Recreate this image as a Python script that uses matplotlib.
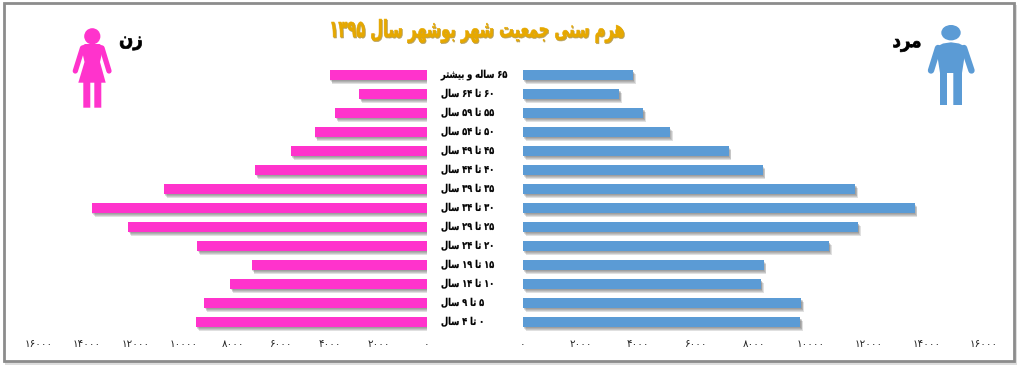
"""Population pyramid of Bushehr city, 1395."""

import matplotlib

matplotlib.use("Agg")

import matplotlib.patheffects as pe
import matplotlib.pyplot as plt
from matplotlib.colors import to_rgb
from matplotlib.patches import Circle, Ellipse, Polygon, Rectangle
from matplotlib.transforms import Affine2D

age_groups = [
    "۰ تا ۴ سال", "۵ تا ۹ سال", "۱۰ تا ۱۴ سال", "۱۵ تا ۱۹ سال", "۲۰ تا ۲۴ سال",
    "۲۵ تا ۲۹ سال", "۳۰ تا ۳۴ سال", "۳۵ تا ۳۹ سال", "۴۰ تا ۴۴ سال", "۴۵ تا ۴۹ سال",
    "۵۰ تا ۵۴ سال", "۵۵ تا ۵۹ سال", "۶۰ تا ۶۴ سال", "۶۵ ساله و بیشتر",
]
male = [9626, 9660, 8260, 8354, 10617, 11622, 13588, 11532, 8319, 7140, 5095, 4170, 3338, 3813]
female = [9506, 9165, 8095, 7218, 9453, 12292, 13800, 10823, 7066, 5597, 4626, 3774, 2786, 4008]
ticks = [0, 2000, 4000, 6000, 8000, 10000, 12000, 14000, 16000]
title = "هرم سنی جمعیت شهر بوشهر سال ۱۳۹۵"
female_label = "زن"
male_label = "مرد"

W, H = 1024, 371
PINK = "#FF33CC"
BLUE = "#5B9BD5"
GOLD = "#E6A800"

# isolated, final, initial, medial (only two forms where the letter does not join forward)
FORMS = {
    "ه": "\uFEE9\uFEEA\uFEEB\uFEEC", "م": "\uFEE1\uFEE2\uFEE3\uFEE4",
    "س": "\uFEB1\uFEB2\uFEB3\uFEB4", "ن": "\uFEE5\uFEE6\uFEE7\uFEE8",
    "ی": "\uFBFC\uFBFD\uFBFE\uFBFF", "ج": "\uFE9D\uFE9E\uFE9F\uFEA0",
    "ع": "\uFEC9\uFECA\uFECB\uFECC", "ت": "\uFE95\uFE96\uFE97\uFE98",
    "ش": "\uFEB5\uFEB6\uFEB7\uFEB8", "ب": "\uFE8F\uFE90\uFE91\uFE92",
    "ل": "\uFEDD\uFEDE\uFEDF\uFEE0", "ر": "\uFEAD\uFEAE", "و": "\uFEED\uFEEE",
    "ا": "\uFE8D\uFE8E", "ز": "\uFEAF\uFEB0", "د": "\uFEA9\uFEAA",
}
DIGITS = "۰۱۲۳۴۵۶۷۸۹"


def shape_word(word: str) -> str:
    """Contextual forms for one word, returned in visual (left to right) order."""
    if word[0] in DIGITS:
        return word
    out = []
    for i, ch in enumerate(word):
        joins_prev = i > 0 and len(FORMS[word[i - 1]]) == 4
        joins_next = i < len(word) - 1 and len(FORMS[ch]) == 4
        idx = (1 if joins_prev else 0) + (2 if joins_next else 0)
        out.append(FORMS[ch][idx])
    return "".join(reversed(out))


def fa(text: str) -> str:
    return " ".join(shape_word(w) for w in reversed(text.split(" ")))


def fa_number(n: int) -> str:
    return "".join(DIGITS[int(c)] for c in str(n))


class Squeeze(pe.AbstractPathEffect):
    """Narrow text horizontally about a pixel column, since the original font is tighter."""

    def __init__(self, x_px, scale, stroke=0.0, color="black", shift=(0, 0)):
        super().__init__()
        self.x_px, self.scale, self.stroke, self.color, self.shift = x_px, scale, stroke, to_rgb(color), shift

    def draw_path(self, renderer, gc, tpath, affine, rgbFace=None):
        squeeze = (Affine2D().translate(-self.x_px, 0).scale(self.scale, 1)
                   .translate(self.x_px + self.shift[0], self.shift[1]))
        gc0 = renderer.new_gc()
        gc0.copy_properties(gc)
        gc0.set_linewidth(self.stroke)
        gc0.set_foreground(self.color)
        renderer.draw_path(gc0, tpath, affine + squeeze, self.color)
        gc0.restore()


def px_axes(fig, x0, x1, y_top, y_bottom, **kw):
    return fig.add_axes([x0 / W, 1 - y_bottom / H, (x1 - x0) / W, (y_bottom - y_top) / H], **kw)


def female_icon(ax):
    ax.add_patch(Circle((92.3, 36.3), 7.4, color=PINK))
    ax.add_patch(Polygon(
        [(81, 46.5), (85, 44), (99.5, 44), (103.5, 46.5), (100, 62), (105.7, 82.7), (101.3, 82.7),
         (101.3, 107.7), (94.3, 107.7), (94.3, 82.7), (90.3, 82.7), (90.3, 107.7), (83.3, 107.7),
         (83.3, 82.7), (78.3, 82.7), (84.5, 62)], color=PINK, lw=0))
    for xs in [(82.5, 75.3), (102, 109)]:
        ax.plot(xs, (48, 71), color=PINK, lw=3.8, solid_capstyle="round")


def male_icon(ax):
    ax.add_patch(Ellipse((951, 32.7), 18, 14, color=BLUE))
    ax.add_patch(Polygon(
        [(936, 47), (943, 43.5), (951, 42.3), (959, 43.5), (966, 47), (962, 73), (962, 105),
         (953.3, 105), (953.3, 73), (947, 73), (947, 105), (940, 105), (940, 73)], color=BLUE, lw=0))
    for xs in [(938, 931), (964, 971.5)]:
        ax.plot(xs, (48, 70.5), color=BLUE, lw=4.6, solid_capstyle="round")


plt.rcParams["font.family"] = ["DejaVu Sans"]
fig = plt.figure(figsize=(W / 100, H / 100), dpi=100)

# frame, icons and captions live in an overlay measured in pixels
bg = fig.add_axes([0, 0, 1, 1])
bg.set_xlim(0, W)
bg.set_ylim(H, 0)
bg.axis("off")
bg.add_patch(Rectangle((5, 5), 1012, 360, color="#dddddd", lw=0))
bg.add_patch(Rectangle((3.5, 3), 1010, 358, facecolor="white", edgecolor="#8c8c8c", lw=2))
female_icon(bg)
male_icon(bg)
bg.text(131, 41, fa(female_label), fontsize=14, fontweight="bold", ha="center", va="center",
        path_effects=[Squeeze(131, 0.85, 0.5)])
bg.text(907, 42, fa(male_label), fontsize=14, fontweight="bold", ha="center", va="center",
        path_effects=[Squeeze(907, 0.85, 0.5)])
bg.text(477, 31, fa(title), fontsize=17, fontweight="bold", color=GOLD, ha="center", va="center",
        path_effects=[Squeeze(477, 0.62, 0.4, "#b9a05a", shift=(0.8, -1)),
                      Squeeze(477, 0.62, 0.4, GOLD)])

Y_TOP, Y_BOTTOM, ROW0, ROW = 60, 335, 322, 19
ylim = ((ROW0 - Y_BOTTOM) / ROW, (ROW0 - Y_TOP) / ROW)
rows = list(range(len(age_groups)))
# a few faint offsets stand in for the blurred shadow of the original
shadow = [pe.SimplePatchShadow(offset=off, shadow_rgbFace="#444444", alpha=0.16)
          for off in [(2, -3), (1.5, -2.2), (1, -1.5), (0.5, -1)]] + [pe.Normal()]

ax_f = px_axes(fig, 38.3, 427, Y_TOP, Y_BOTTOM, facecolor="none")
ax_m = px_axes(fig, 523, 984, Y_TOP, Y_BOTTOM, facecolor="none")
for ax, values, color in [(ax_f, female, PINK), (ax_m, male, BLUE)]:
    bars = ax.barh(rows, values, height=0.5, color=color)
    for bar in bars:
        bar.set_path_effects(shadow)
    ax.set_ylim(*ylim)
    ax.set_yticks([])
    ax.set_xticks(ticks)
    ax.set_xticklabels([fa_number(t) for t in ticks], fontsize=7.5)
    ax.tick_params(axis="x", length=0, pad=3, colors="#222222")
    for spine in ax.spines.values():
        spine.set_visible(False)
ax_f.set_xlim(16000, 0)
ax_m.set_xlim(0, 16000)

for row, label in zip(rows, age_groups):
    bg.text(441, ROW0 - ROW * row, fa(label), fontsize=7.6, fontweight="bold", ha="left", va="center",
            path_effects=[Squeeze(441, 0.78, 0.15)])

fig.savefig("out.png", dpi=100)
plt.close(fig)
